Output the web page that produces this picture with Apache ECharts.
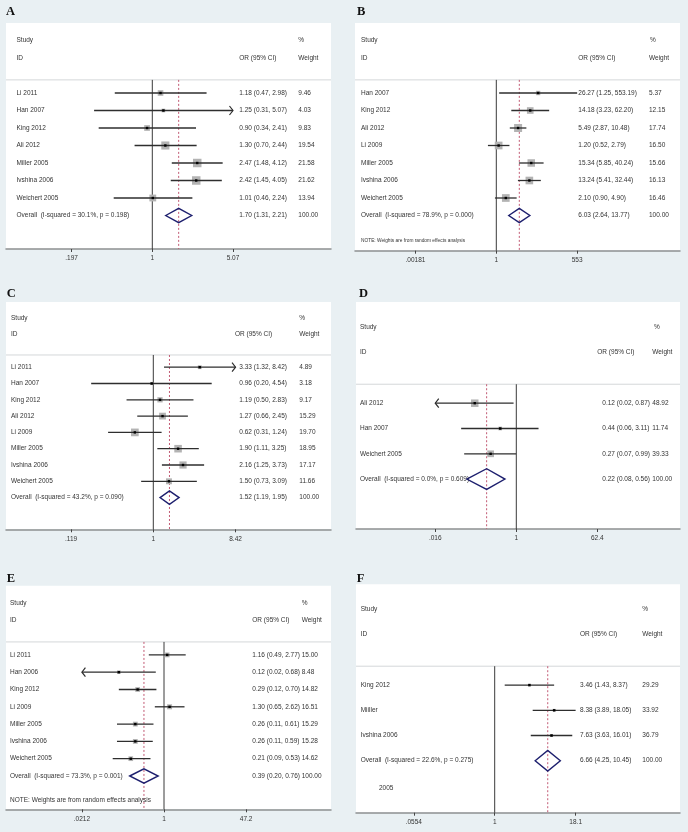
<!DOCTYPE html>
<html><head><meta charset="utf-8">
<script src="https://cdn.jsdelivr.net/npm/echarts@6/dist/echarts.min.js"></script>
<style>html,body{margin:0;padding:0;background:#e9f0f3}#c{width:688px;height:832px}</style>
</head><body><div id="c"></div><script>
// ---------------- DATA ----------------
const studiesA = ['Li 2011','Han 2007','King 2012','Ali 2012','Miller 2005','Ivshina 2006','Weichert 2005'];
const orA = [1.18,1.25,0.90,1.30,2.47,2.42,1.01];
const loA = [0.47,0.31,0.34,0.70,1.48,1.45,0.46];
const hiA = [2.98,5.07,2.41,2.44,4.12,4.05,2.24];
const weightA = [9.46,4.03,9.83,19.54,21.58,21.62,13.94];
const arrowA = ['','right','','','','',''];
const overallA = [1.70,1.31,2.21];
const hetA = ['30.1%','0.198'];
const ticksA = [0.197,1,5.07];
const tickLabelsA = ['.197','1','5.07'];

const studiesB = ['Han 2007','King 2012','Ali 2012','Li 2009','Miller 2005','Ivshina 2006','Weichert 2005'];
const orB = [26.27,14.18,5.49,1.20,15.34,13.24,2.10];
const loB = [1.25,3.23,2.87,0.52,5.85,5.41,0.90];
const hiB = [553.19,62.20,10.48,2.79,40.24,32.44,4.90];
const weightB = [5.37,12.15,17.74,16.50,15.66,16.13,16.46];
const arrowB = ['','','','','','',''];
const overallB = [6.03,2.64,13.77];
const hetB = ['78.9%','0.000'];
const ticksB = [0.00181,1,553];
const tickLabelsB = ['.00181','1','553'];
const noteB = 'NOTE: Weights are from random effects analysis';

const studiesC = ['Li 2011','Han 2007','King 2012','Ali 2012','Li 2009','Miller 2005','Ivshina 2006','Weichert 2005'];
const orC = [3.33,0.96,1.19,1.27,0.62,1.90,2.16,1.50];
const loC = [1.32,0.20,0.50,0.66,0.31,1.11,1.25,0.73];
const hiC = [8.42,4.54,2.83,2.45,1.24,3.25,3.73,3.09];
const weightC = [4.89,3.18,9.17,15.29,19.70,18.95,17.17,11.66];
const arrowC = ['right','','','','','','',''];
const overallC = [1.52,1.19,1.95];
const hetC = ['43.2%','0.090'];
const ticksC = [0.119,1,8.42];
const tickLabelsC = ['.119','1','8.42'];

const studiesD = ['Ali 2012','Han 2007','Weichert 2005'];
const orD = [0.12,0.44,0.27];
const loD = [0.02,0.06,0.07];
const hiD = [0.87,3.11,0.99];
const weightD = [48.92,11.74,39.33];
const arrowD = ['left','',''];
const overallD = [0.22,0.08,0.56];
const hetD = ['0.0%','0.609'];
const ticksD = [0.016,1,62.4];
const tickLabelsD = ['.016','1','62.4'];

const studiesE = ['Li 2011','Han 2006','King 2012','Li 2009','Miller 2005','Ivshina 2006','Weichert 2005'];
const orE = [1.16,0.12,0.29,1.30,0.26,0.26,0.21];
const loE = [0.49,0.02,0.12,0.65,0.11,0.11,0.09];
const hiE = [2.77,0.68,0.70,2.62,0.61,0.59,0.53];
const weightE = [15.00,8.48,14.82,16.51,15.29,15.28,14.62];
const arrowE = ['','left','','','','',''];
const overallE = [0.39,0.20,0.76];
const hetE = ['73.3%','0.001'];
const ticksE = [0.0212,1,47.2];
const tickLabelsE = ['.0212','1','47.2'];
const noteE = 'NOTE: Weights are from random effects analysis';

const studiesF = ['King 2012','Miiller','Ivshina 2006'];
const orF = [3.46,8.38,7.63];
const loF = [1.43,3.89,3.63];
const hiF = [8.37,18.05,16.01];
const weightF = [29.29,33.92,36.79];
const arrowF = ['','',''];
const overallF = [6.66,4.25,10.45];
const hetF = ['22.6%','0.275'];
const ticksF = [0.0554,1,18.1];
const tickLabelsF = ['.0554','1','18.1'];
const extraF = '2005';

// ---------------- LAYOUT ----------------
const layout = {
  A:{L:6,R:331,top:23,dy:17.5,axisY:249,x1:152.3,ppl:49.7,studyX:16.5,orHX:239.3,orX:239.3,wX:298.3,pctX:298.3,box:8.5,letter:[6,12.5]},
  B:{L:355,R:680,top:23,dy:17.5,axisY:250.7,x1:496.3,ppl:12.8,studyX:361,orHX:578.3,orX:578.3,wX:649,pctX:650,box:8,letter:[357,12.5],noteRow:8.46,noteFont:4.8},
  C:{L:6,R:331,top:302,dy:16.3,axisY:529.3,x1:153.3,ppl:38.6,studyX:11,orHX:235,orX:239.3,wX:299.3,pctX:299.3,box:7.7,letter:[6.7,294.5]},
  D:{L:356,R:680,top:302,dy:25.3,axisY:529,x1:516.3,ppl:19.6,studyX:360,orHX:597.3,orX:602.3,wX:652.3,pctX:654,box:7.5,letter:[359,294]},
  E:{L:6,R:331,top:585.7,dy:17.3,axisY:809.3,x1:164,ppl:21.3,studyX:10,orHX:252.3,orX:252.3,wX:301.7,pctX:301.7,box:5,letter:[6.7,579],noteRow:8.39,noteFont:6.5},
  F:{L:356,R:680,top:584.3,dy:25.2,axisY:812.7,x1:494.7,ppl:27.97,studyX:360.7,orHX:580,orX:580,wX:642.3,pctX:642.3,box:3,letter:[356.7,579],extraRow:4.1,extraX:379}
};

const panels = [
  {key:'A',studies:studiesA,or:orA,lo:loA,hi:hiA,w:weightA,arrow:arrowA,overall:overallA,het:hetA,ticks:ticksA,tickLabels:tickLabelsA},
  {key:'B',studies:studiesB,or:orB,lo:loB,hi:hiB,w:weightB,arrow:arrowB,overall:overallB,het:hetB,ticks:ticksB,tickLabels:tickLabelsB,note:noteB},
  {key:'C',studies:studiesC,or:orC,lo:loC,hi:hiC,w:weightC,arrow:arrowC,overall:overallC,het:hetC,ticks:ticksC,tickLabels:tickLabelsC},
  {key:'D',studies:studiesD,or:orD,lo:loD,hi:hiD,w:weightD,arrow:arrowD,overall:overallD,het:hetD,ticks:ticksD,tickLabels:tickLabelsD},
  {key:'E',studies:studiesE,or:orE,lo:loE,hi:hiE,w:weightE,arrow:arrowE,overall:overallE,het:hetE,ticks:ticksE,tickLabels:tickLabelsE,note:noteE},
  {key:'F',studies:studiesF,or:orF,lo:loF,hi:hiF,w:weightF,arrow:arrowF,overall:overallF,het:hetF,ticks:ticksF,tickLabels:tickLabelsF,extra:extraF}
];

// ---------------- STYLE ----------------
const FONT_FAMILY = "'Liberation Sans', Arial, Helvetica, sans-serif";
const TXT = '#333';
const font = s => s + "px " + FONT_FAMILY;
const f2 = v => v.toFixed(2);
const LN = Math.log;

const chart = echarts.init(document.getElementById('c'), null, {renderer:'canvas'});
const option = {backgroundColor:'#e9f0f3', animation:false, grid:[], xAxis:[], yAxis:[], series:[], graphic:[]};

function txt(x, y, s, size, align) {
  return {type:'text', x:x, y:y, style:{text:s, font:font(size||6.5), fill:TXT, align:align||'left', verticalAlign:'middle'}, silent:true};
}

panels.forEach((P, k) => {
  const G = layout[P.key];
  const yMax = (G.axisY - G.top) / G.dy - 4;
  const tv = P.ticks.map(LN);
  const wMax = Math.max.apply(null, P.w);
  const n = P.studies.length;

  option.grid.push({left:G.L, top:G.top, width:G.R - G.L, height:G.axisY - G.top, show:true, backgroundColor:'#fff', borderWidth:0});
  option.xAxis.push({
    gridIndex:k, type:'value', position:'bottom',
    min:(G.L - G.x1) / G.ppl, max:(G.R - G.x1) / G.ppl,
    splitLine:{show:false},
    axisLine:{show:true, onZero:false, lineStyle:{color:'#8d9091', width:1.5}},
    axisTick:{show:true, customValues:tv, length:3, lineStyle:{color:'#444', width:1}},
    axisLabel:{show:true, customValues:tv, margin:6, fontSize:6.5, fontFamily:FONT_FAMILY, color:TXT,
      formatter:(v) => { let b = 0; tv.forEach((t, j) => { if (Math.abs(t - v) < Math.abs(tv[b] - v)) b = j; }); return P.tickLabels[b]; }}
  });
  option.yAxis.push({gridIndex:k, type:'value', inverse:true, min:-4, max:yMax, show:false});

  // frame: header, separator, reference lines, overall diamond
  option.series.push({
    type:'custom', xAxisIndex:k, yAxisIndex:k, clip:false, z:2,
    data:[[LN(P.overall[0]), LN(P.overall[1]), LN(P.overall[2]), n]],
    renderItem:(params, api) => {
      const row = api.value(3);
      const yTop = api.coord([0, -0.75])[1];
      const yBot = api.coord([0, yMax])[1];
      const x0 = api.coord([0, 0])[0];
      const xo = api.coord([api.value(0), row]);
      const xl = api.coord([api.value(1), row])[0];
      const xr = api.coord([api.value(2), row])[0];
      const h = 0.41 * G.dy;
      const yh1 = api.coord([0, -3])[1], yh2 = api.coord([0, -2])[1];
      const ch = [];
      ch.push({type:'line', shape:{x1:G.L, y1:yTop, x2:G.R, y2:yTop}, style:{stroke:'#d4d7d9', lineWidth:1}});
      ch.push({type:'line', shape:{x1:x0, y1:yTop, x2:x0, y2:yBot}, style:{stroke:'#3a3a3a', lineWidth:1}});
      ch.push({type:'line', shape:{x1:xo[0], y1:yTop, x2:xo[0], y2:yBot}, style:{stroke:'#c25a74', lineWidth:1, lineDash:[2,2]}});
      ch.push(txt(G.studyX, yh1, 'Study'));
      ch.push(txt(G.studyX, yh2, 'ID'));
      ch.push(txt(G.pctX, yh1, '%'));
      ch.push(txt(G.orHX, yh2, 'OR (95% CI)'));
      ch.push(txt(G.wX, yh2, 'Weight'));
      ch.push(txt(G.studyX, xo[1], 'Overall  (I-squared = ' + P.het[0] + ', p = ' + P.het[1] + ')'));
      ch.push(txt(G.orX, xo[1], f2(P.overall[0]) + ' (' + f2(P.overall[1]) + ', ' + f2(P.overall[2]) + ')'));
      ch.push(txt(G.wX, xo[1], '100.00'));
      ch.push({type:'polygon', shape:{points:[[xl, xo[1]], [xo[0], xo[1] - h], [xr, xo[1]], [xo[0], xo[1] + h]]},
        style:{fill:'none', stroke:'#1d1f6e', lineWidth:1.4}});
      if (P.note) ch.push(txt(G.studyX, api.coord([0, G.noteRow])[1], P.note, G.noteFont));
      if (P.extra) ch.push(txt(G.extraX, api.coord([0, G.extraRow])[1], P.extra));
      return {type:'group', children:ch};
    }
  });

  // study rows
  option.series.push({
    type:'custom', xAxisIndex:k, yAxisIndex:k, clip:false, z:3,
    data:P.studies.map((s, i) => [LN(P.or[i]), LN(P.lo[i]), LN(P.hi[i]), i, P.w[i]]),
    renderItem:(params, api) => {
      const i = params.dataIndex;
      const row = api.value(3);
      const c = api.coord([api.value(0), row]);
      let xl = api.coord([api.value(1), row])[0];
      let xr = api.coord([api.value(2), row])[0];
      const tL = api.coord([tv[0], row])[0];
      const tR = api.coord([tv[tv.length - 1], row])[0];
      const ch = [];
      const side = G.box * Math.sqrt(api.value(4) / wMax);
      ch.push({type:'rect', shape:{x:c[0] - side / 2, y:c[1] - side / 2, width:side, height:side}, style:{fill:'#b3b3b3'}});
      if (P.arrow[i] === 'left') xl = tL;
      if (P.arrow[i] === 'right') xr = tR;
      ch.push({type:'line', shape:{x1:xl, y1:c[1], x2:xr, y2:c[1]}, style:{stroke:'#2e2e2e', lineWidth:1.3}});
      if (P.arrow[i] === 'left') ch.push({type:'polyline', shape:{points:[[xl + 3.5, c[1] - 4.5], [xl, c[1]], [xl + 3.5, c[1] + 4.5]]}, style:{stroke:'#2e2e2e', lineWidth:1.2, fill:'none'}});
      if (P.arrow[i] === 'right') ch.push({type:'polyline', shape:{points:[[xr - 3.5, c[1] - 4.5], [xr, c[1]], [xr - 3.5, c[1] + 4.5]]}, style:{stroke:'#2e2e2e', lineWidth:1.2, fill:'none'}});
      ch.push({type:'rect', shape:{x:c[0] - 1.2, y:c[1] - 1.2, width:2.4, height:2.4}, style:{fill:'#000'}});
      ch.push(txt(G.studyX, c[1], P.studies[i]));
      ch.push(txt(G.orX, c[1], f2(P.or[i]) + ' (' + f2(P.lo[i]) + ', ' + f2(P.hi[i]) + ')'));
      ch.push(txt(G.wX, c[1], f2(P.w[i])));
      return {type:'group', children:ch};
    }
  });

  option.graphic.push({type:'text', left:G.letter[0], top:G.letter[1] - 7,
    style:{text:P.key, font:"bold 12.5px 'Liberation Serif', 'Times New Roman', serif", fill:'#111'}});
});

chart.setOption(option);
</script></body></html>
